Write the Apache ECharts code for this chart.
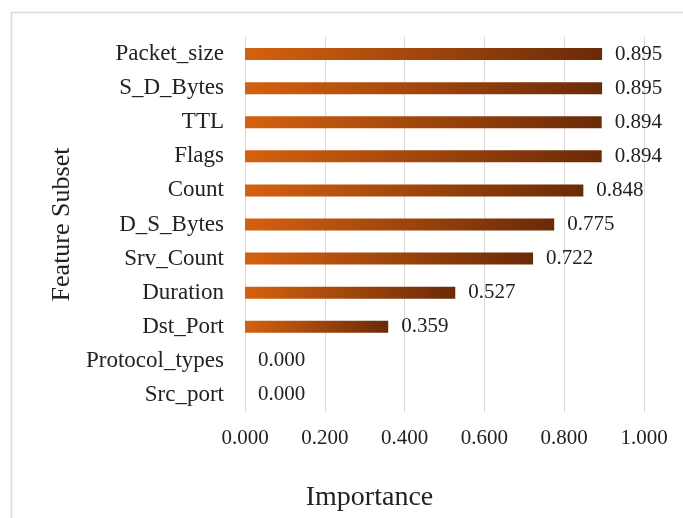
<!DOCTYPE html>
<html>
<head>
<meta charset="utf-8">
<script src="https://cdn.jsdelivr.net/npm/echarts@6/dist/echarts.min.js"></script>
<style>
  html, body { margin: 0; padding: 0; background: #fff; }
  #chart { width: 683px; height: 518px; }
</style>
</head>
<body>
<div id="chart"></div>
<script>
// Feature names, top to bottom
const features = ['Packet_size', 'S_D_Bytes', 'TTL', 'Flags', 'Count', 'D_S_Bytes',
                  'Srv_Count', 'Duration', 'Dst_Port', 'Protocol_types', 'Src_port'];
// Importance score of each feature
const importance = [0.895, 0.895, 0.894, 0.894, 0.848, 0.775, 0.722, 0.527, 0.359, 0.000, 0.000];
// Horizontal axis ticks
const xTicks = [0, 0.2, 0.4, 0.6, 0.8, 1.0];

const FONT = 'Liberation Serif';
const TEXT = '#222222';

const chart = echarts.init(document.getElementById('chart'), null, { renderer: 'canvas' });

chart.setOption({
  backgroundColor: '#fff',
  animation: false,
  graphic: [{
    type: 'rect',
    shape: { x: 11.5, y: 12.5, width: 720, height: 600 },
    style: { fill: 'none', stroke: '#d9d9d9', lineWidth: 1.5 },
    silent: true
  }],
  grid: { left: 245, right: 39, top: 37, bottom: 106 },
  xAxis: {
    type: 'value',
    min: xTicks[0],
    max: xTicks[xTicks.length - 1],
    interval: 0.2,
    name: 'Importance',
    nameLocation: 'middle',
    nameGap: 72,
    nameTextStyle: { fontFamily: FONT, fontSize: 28, color: TEXT, padding: [0, 150, 0, 0] },
    axisLine: { show: false },
    axisTick: { show: false },
    axisLabel: {
      fontFamily: FONT, fontSize: 21, color: TEXT, margin: 16,
      formatter: v => v.toFixed(3)
    },
    splitLine: { show: true, lineStyle: { color: '#d9d9d9', width: 1 } }
  },
  yAxis: {
    type: 'category',
    data: features,
    inverse: true,
    name: 'Feature Subset',
    nameLocation: 'middle',
    nameGap: 170,
    nameTextStyle: { fontFamily: FONT, fontSize: 26, color: TEXT },
    axisLine: { show: false },
    axisTick: { show: false },
    axisLabel: { fontFamily: FONT, fontSize: 23, color: TEXT, margin: 21 }
  },
  series: [{
    type: 'bar',
    data: importance,
    barWidth: 12,
    itemStyle: {
      color: new echarts.graphic.LinearGradient(0, 0, 1, 0, [
        { offset: 0, color: '#d5610f' },
        { offset: 1, color: '#6a2a08' }
      ])
    },
    label: {
      show: true,
      position: 'right',
      distance: 13,
      fontFamily: FONT, fontSize: 21, color: TEXT,
      formatter: p => p.value.toFixed(3)
    }
  }]
});
</script>
</body>
</html>
